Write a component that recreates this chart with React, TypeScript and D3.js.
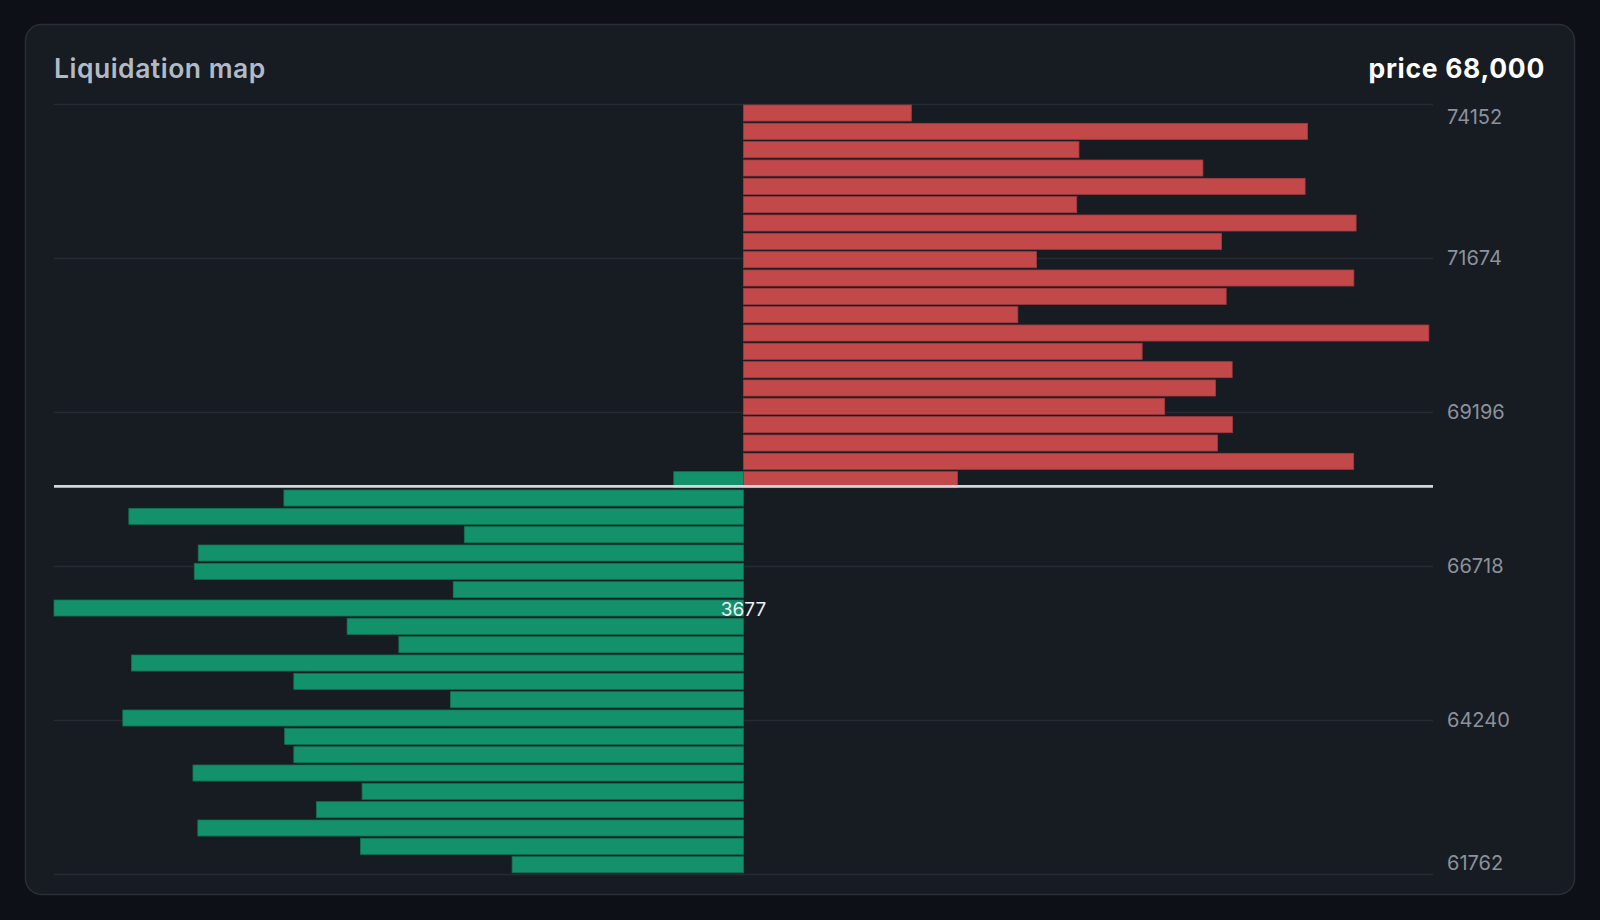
import { useEffect, useRef } from "react";
import * as d3 from "d3";

// price bins, lower bound of each level (bottom to top)
const priceLevels = [
  61762, 62057, 62352, 62647, 62942, 63237, 63532, 63827, 64122, 64417, 64712,
  65007, 65302, 65597, 65892, 66187, 66482, 66777, 67072, 67367, 67662, 67957,
  68252, 68547, 68842, 69137, 69432, 69727, 70022, 70317, 70612, 70907, 71202,
  71497, 71792, 72087, 72382, 72677, 72972, 73267, 73562, 73857,
];
const binSize = 295;

// long liquidations (below price), same order as priceLevels
const longs = [
  1234, 2043, 2910, 2278, 2034, 2936, 2398, 2447, 3310, 1563, 2398, 3264, 1838,
  2114, 3677, 1548, 2929, 2908, 1489, 3278, 2451, 372, 0, 0, 0, 0, 0, 0, 0, 0,
  0, 0, 0, 0, 0, 0, 0, 0, 0, 0, 0, 0,
];

// short liquidations (above price)
const shorts = [
  0, 0, 0, 0, 0, 0, 0, 0, 0, 0, 0, 0, 0, 0, 0, 0, 0, 0, 0, 0, 0, 1141, 3254,
  2528, 2608, 2246, 2517, 2606, 2126, 3655, 1463, 2574, 3255, 1562, 2549, 3267,
  1777, 2995, 2450, 1789, 3008, 895,
];

const tickValues = [61762, 64240, 66718, 69196, 71674, 74152];
const currentPrice = 68000;

const FONT = "Inter, 'Noto Sans', sans-serif";

const App = () => {
  const ref = useRef(null);

  useEffect(() => {
    const svg = d3.select(ref.current).html("");

    const plot = { left: 54, right: 1433, top: 104, bottom: 874 };

    // card
    svg
      .append("rect")
      .attr("width", 1600)
      .attr("height", 920)
      .attr("fill", "#0d1117");
    svg
      .append("rect")
      .attr("x", 25.5)
      .attr("y", 24.5)
      .attr("width", 1549)
      .attr("height", 870)
      .attr("rx", 16)
      .attr("fill", "#171b22")
      .attr("stroke", "#2a2f37")
      .attr("stroke-width", 1.5);

    svg
      .append("text")
      .attr("x", 54)
      .attr("y", 78)
      .attr("font-family", FONT)
      .attr("font-size", 26.5)
      .attr("font-weight", 600)
      .attr("letter-spacing", 0.5)
      .attr("fill", "#b2bac6")
      .text("Liquidation map");

    svg
      .append("text")
      .attr("x", 1545)
      .attr("y", 78)
      .attr("text-anchor", "end")
      .attr("font-family", FONT)
      .attr("font-size", 26.5)
      .attr("font-weight", 700)
      .attr("letter-spacing", 0.7)
      .attr("fill", "#ffffff")
      .text(`price ${d3.format(",")(currentPrice)}`);

    const maxVal = d3.max([...longs, ...shorts]);

    const x = d3
      .scaleLinear()
      .domain([-maxVal, maxVal])
      .range([plot.left, plot.right]);

    const y = d3
      .scaleLinear()
      .domain([tickValues[0], tickValues[tickValues.length - 1]])
      .range([plot.bottom, plot.top]);

    // grid
    svg
      .append("g")
      .selectAll("line")
      .data(tickValues)
      .enter()
      .append("line")
      .attr("x1", plot.left)
      .attr("x2", plot.right)
      .attr("y1", (d) => Math.round(y(d)) + 0.5)
      .attr("y2", (d) => Math.round(y(d)) + 0.5)
      .attr("stroke", "#262b33")
      .attr("stroke-width", 1.5);

    // tick labels, first and last kept inside the plot
    svg
      .append("g")
      .selectAll("text")
      .data(tickValues)
      .enter()
      .append("text")
      .attr("x", 1447)
      .attr("y", (d) => Math.min(Math.max(y(d), plot.top + 13), plot.bottom - 11))
      .attr("dy", "0.35em")
      .attr("font-family", FONT)
      .attr("font-size", 20)
      .attr("fill", "#8b929c")
      .text((d) => d);

    const rows = priceLevels.map((p, i) => ({
      price: p,
      long: longs[i],
      short: shorts[i],
    }));

    const barTop = (d) => y(d.price + binSize) + 1;
    const barH = (d) => y(d.price) - y(d.price + binSize) - 2.3;

    // shorts (right)
    svg
      .append("g")
      .selectAll("rect")
      .data(rows.filter((d) => d.short > 0))
      .enter()
      .append("rect")
      .attr("x", x(0))
      .attr("y", barTop)
      .attr("width", (d) => x(d.short) - x(0))
      .attr("height", barH)
      .attr("fill", "#c3484a")
      .attr("stroke", "#9e3d40")
      .attr("stroke-width", 0.8);

    // longs (left)
    svg
      .append("g")
      .selectAll("rect")
      .data(rows.filter((d) => d.long > 0))
      .enter()
      .append("rect")
      .attr("x", (d) => x(-d.long))
      .attr("y", barTop)
      .attr("width", (d) => x(0) - x(-d.long))
      .attr("height", barH)
      .attr("fill", "#13916b")
      .attr("stroke", "#0f7253")
      .attr("stroke-width", 0.8);

    // current price line
    svg
      .append("line")
      .attr("x1", plot.left)
      .attr("x2", plot.right)
      .attr("y1", y(currentPrice))
      .attr("y2", y(currentPrice))
      .attr("stroke", "#d3d6db")
      .attr("stroke-width", 2.8);

    // label on the biggest bin
    const peak = rows.reduce((a, b) => (b.long > a.long ? b : a));
    svg
      .append("text")
      .attr("x", x(0))
      .attr("y", (barTop(peak) + barTop(peak) + barH(peak)) / 2)
      .attr("dy", "0.42em")
      .attr("text-anchor", "middle")
      .attr("font-family", FONT)
      .attr("font-size", 19)
      .attr("fill", "#eef1f4")
      .text(peak.long);
  }, []);

  return (
    <div
      style={{
        position: "fixed",
        left: 0,
        top: 0,
        width: 1600,
        height: 920,
        background: "#0d1117",
      }}
    >
      <svg ref={ref} width={1600} height={920}></svg>
    </div>
  );
};

export default App;
